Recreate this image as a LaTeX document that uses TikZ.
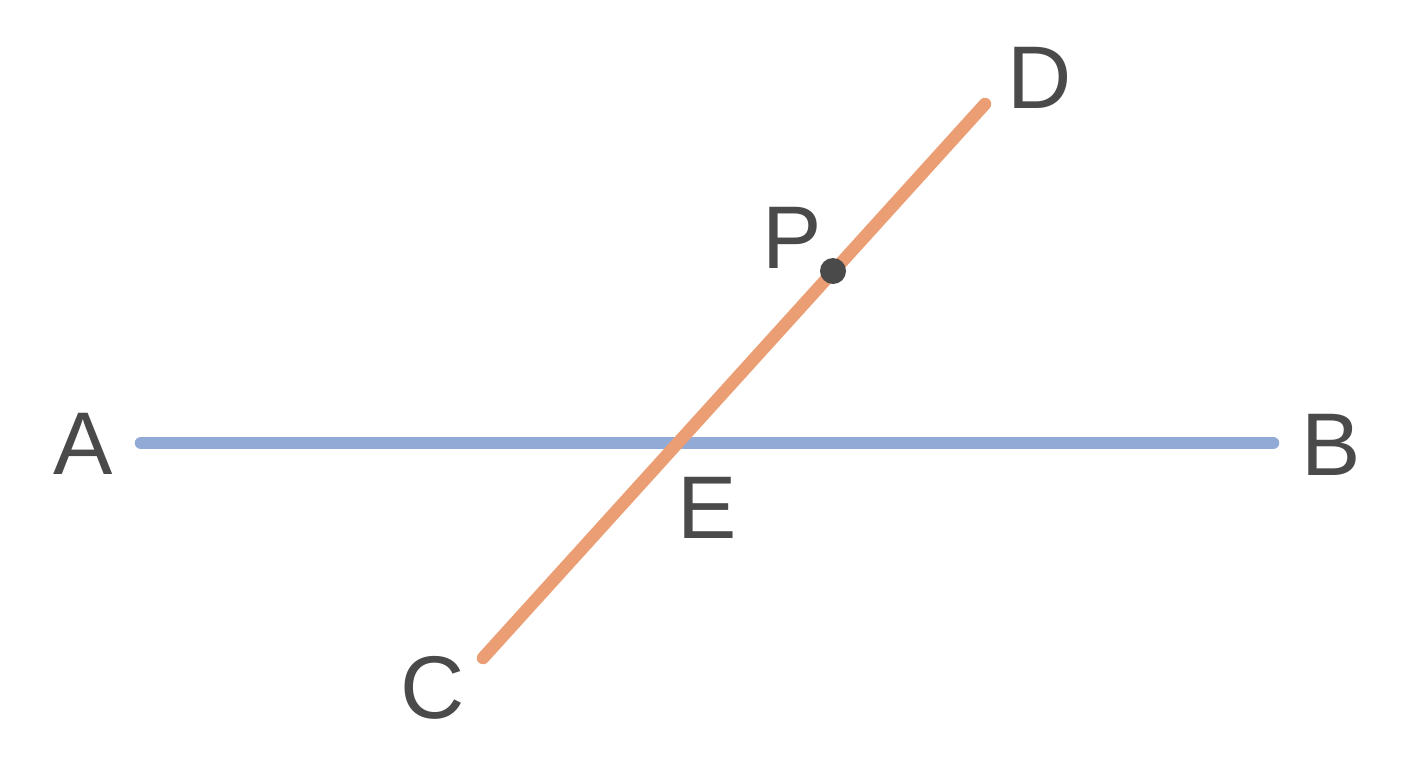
\documentclass[tikz,border=0pt]{standalone}
\usepackage{fontspec}
\setmainfont{Liberation Sans}
\definecolor{lblue}{HTML}{92AAD6}
\definecolor{lorange}{HTML}{EB9E74}
\definecolor{ink}{HTML}{4A4A4A}
\begin{document}
\begin{tikzpicture}[x=1pt,y=-1pt,
  lbl/.style={inner sep=0pt,text=ink,font=\fontsize{89}{89}\selectfont},
  seg/.style={line width=12.5pt,line cap=round}]
\useasboundingbox (0,0) rectangle (1408,768);
\fill[white] (0,0) rectangle (1408,768);
\coordinate (a) at (141,443);
\coordinate (b) at (1273,443);
\coordinate (c) at (483,658);
\coordinate (d) at (985,104);
\coordinate (p) at (833,271);
\draw[seg,lblue] (a) -- (b);
\draw[seg,lorange] (c) -- (d);
\fill[ink] (p) circle (13);
\node[lbl] (A) at (83,444) {A};
\node[lbl] (B) at (1331,445) {B};
\node[lbl] (C) at (433,688) {C};
\node[lbl] (D) at (1040,78) {D};
\node[lbl] (E) at (707,508) {E};
\node[lbl] (P) at (792,238) {P};
\end{tikzpicture}
\end{document}
